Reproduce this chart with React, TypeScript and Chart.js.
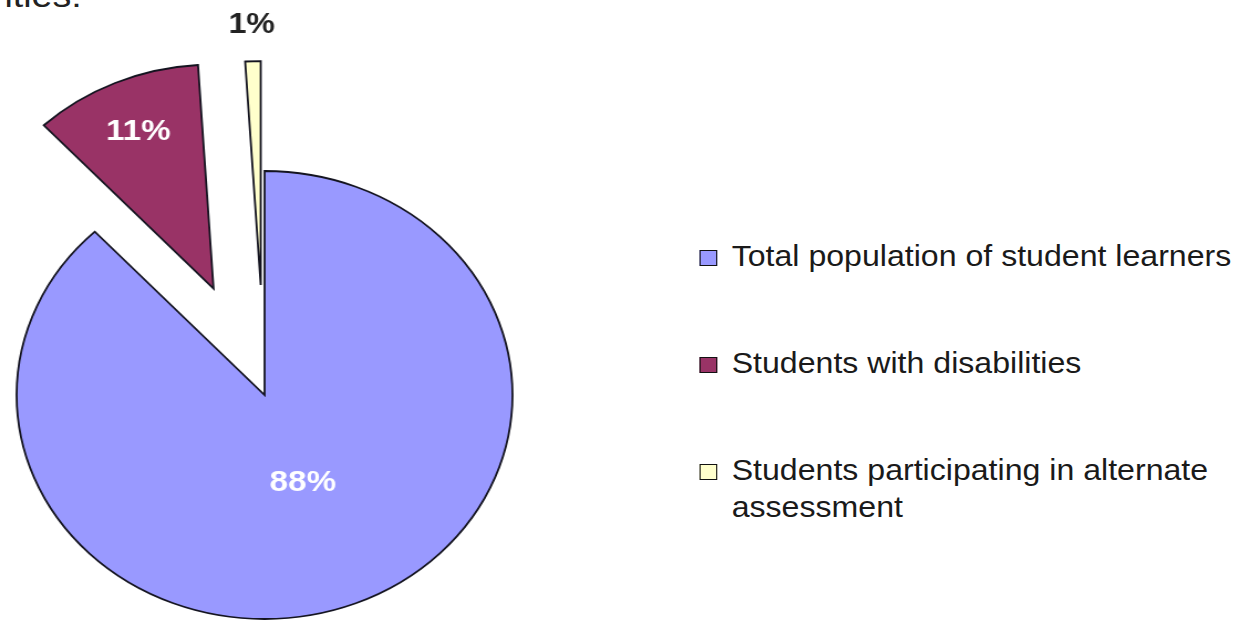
import React, { useEffect, useRef } from "react";
import { Chart, registerables } from "chart.js";

Chart.register(...registerables);

// ---- data ----
const categories: string[] = [
  "Total population of student learners",
  "Students with disabilities",
  "Students participating in alternate assessment",
];
const percentages: number[] = [88, 11, 1];
const sliceColors: string[] = ["#9999FF", "#993366", "#FFFFCC"];
const labelColors: string[] = ["#FFFFFF", "#FFFFFF", "#222222"];
const captionText = "ities:";

const FONT = '"Liberation Sans", Arial, sans-serif';
const STRETCH = 1253 / 1132;

const explodedPiePlugin = {
  id: "explodedPie",
  beforeDatasetDraw(chart: any, args: any, opts: any) {
    const ctx = chart.ctx as CanvasRenderingContext2D;
    const meta = args.meta;
    const ds = chart.data.datasets[args.index];
    const centers: { cx: number; cy: number; mid: number; r: number }[] = [];
    meta.data.forEach((arc: any, i: number) => {
      const p = arc.getProps(["x", "y", "startAngle", "endAngle", "outerRadius"], true);
      const mid = (p.startAngle + p.endAngle) / 2;
      const off = (opts.explode && opts.explode[i]) || 0;
      const cx = p.x + Math.cos(mid) * off;
      const cy = p.y + Math.sin(mid) * off;
      centers.push({ cx, cy, mid, r: p.outerRadius });
      ctx.save();
      ctx.beginPath();
      ctx.moveTo(cx, cy);
      ctx.arc(cx, cy, p.outerRadius, p.startAngle, p.endAngle);
      ctx.closePath();
      ctx.fillStyle = ds.backgroundColor[i];
      ctx.fill();
      ctx.lineWidth = 1.8;
      ctx.strokeStyle = "#141420";
      ctx.stroke();
      ctx.restore();
    });
    // labels
    centers.forEach((c, i) => {
      const f = opts.labelRadius[i];
      const lx = c.cx + Math.cos(c.mid) * c.r * f;
      const ly = c.cy + Math.sin(c.mid) * c.r * f;
      ctx.save();
      ctx.font = `bold ${opts.labelSize[i]}px ${FONT}`;
      ctx.fillStyle = opts.labelColors[i];
      ctx.textAlign = "center";
      ctx.textBaseline = "middle";
      ctx.fillText(`${ds.data[i]}%`, lx, ly);
      ctx.restore();
    });
    return false;
  },
};

export default function App() {
  const canvasRef = useRef<HTMLCanvasElement | null>(null);

  useEffect(() => {
    if (!canvasRef.current) return;
    const chart = new Chart(canvasRef.current, {
      type: "pie",
      data: {
        labels: categories,
        datasets: [
          {
            data: percentages,
            backgroundColor: sliceColors,
            borderColor: "#141420",
            borderWidth: 0,
          },
        ],
      },
      options: {
        responsive: false,
        animation: false,
        radius: 224,
        layout: { padding: { left: 0, right: 122, top: 168, bottom: 0 } },
        plugins: {
          legend: { display: false },
          tooltip: { enabled: false },
          explodedPie: {
            explode: [0, 116, 110],
            labelRadius: [0.42, 0.765, 1.16],
            labelSize: [30, 30, 29],
            labelColors: labelColors,
          },
        } as any,
      } as any,
      plugins: [explodedPiePlugin as any],
    });
    return () => chart.destroy();
  }, []);

  return (
    <div
      style={{
        position: "absolute",
        left: 0,
        top: 0,
        width: 1132,
        height: 622,
        overflow: "hidden",
        transform: `scaleX(${STRETCH})`,
        transformOrigin: "0 0",
        background: "#FFFFFF",
        fontFamily: FONT,
      }}
    >
      <div
        style={{
          position: "absolute",
          left: 4,
          top: -21.8,
          fontSize: 34,
          lineHeight: "34px",
          color: "#222",
          whiteSpace: "nowrap",
        }}
      >
        {captionText}
      </div>
      <canvas
        ref={canvasRef}
        width={600}
        height={622}
        style={{ position: "absolute", left: 0, top: 0 }}
      />
      <div
        style={{
          position: "absolute",
          left: 632,
          top: 238,
          display: "flex",
          flexDirection: "column",
          gap: 70,
        }}
      >
        {categories.map((c, i) => (
          <div key={c} style={{ display: "flex", alignItems: "flex-start" }}>
            <div
              style={{
                width: 14,
                height: 14,
                marginTop: 12,
                border: "1px solid #111",
                background: sliceColors[i],
                flex: "0 0 auto",
              }}
            />
            <div
              style={{
                marginLeft: 13,
                width: 470,
                fontSize: 29,
                lineHeight: "37px",
                color: "#1a1a1a",
              }}
            >
              {c}
            </div>
          </div>
        ))}
      </div>
    </div>
  );
}
